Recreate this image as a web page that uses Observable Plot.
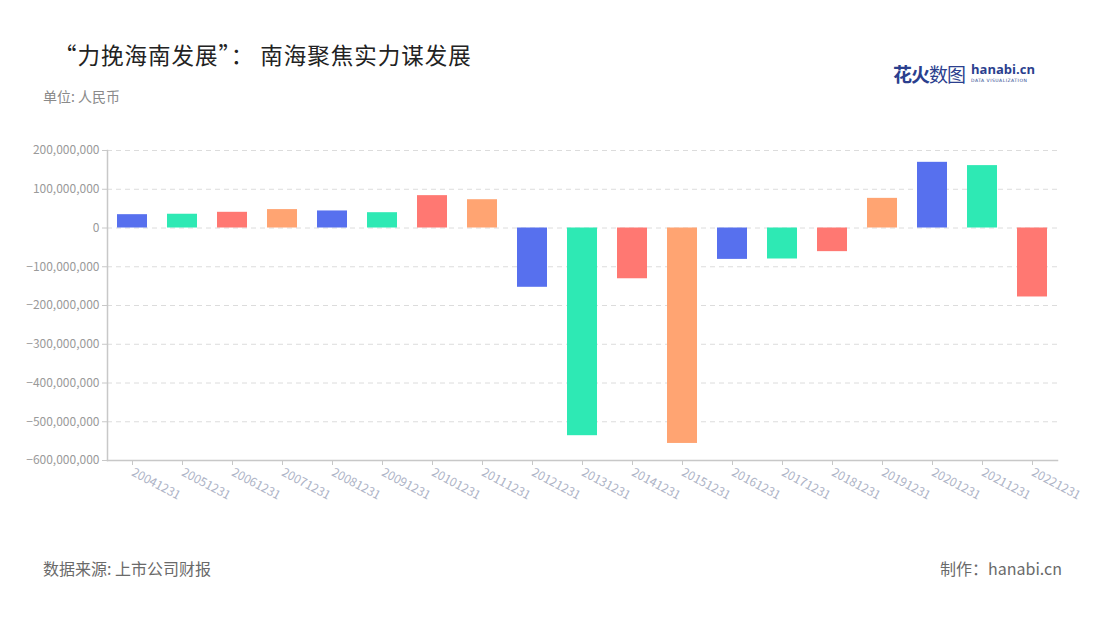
<!DOCTYPE html>
<html lang="zh-CN">
<head>
<meta charset="utf-8">
<script src="https://cdn.jsdelivr.net/npm/d3@7"></script>
<script src="https://cdn.jsdelivr.net/npm/@observablehq/plot@0.6"></script>
<style>
  html, body { margin: 0; padding: 0; background: #fff; }
  body { width: 1100px; height: 620px; position: relative; overflow: hidden;
         font-family: "Noto Sans CJK SC", "Noto Sans", sans-serif; }
  .title { position: absolute; left: 54px; top: 38px; font-size: 22.5px; color: #222; letter-spacing: 1px; font-weight: 400; }
  .unit { position: absolute; left: 43px; top: 86px; font-size: 14px; color: #8a8a8a; }
  .logo { position: absolute; left: 893px; top: 60px; display: flex; align-items: center; }
  .logo .cn { font-size: 19px; color: #2b3f8e; letter-spacing: -1px; }
  .logo .cn b { font-weight: 700; }
  .logo .en { margin-left: 6px; }
  .logo .en .a { font-size: 13px; line-height: 13px; font-weight: 700; color: #2b3f8e; font-family: "Open Sans", sans-serif; }
  .logo .en .b { font-size: 4.5px; line-height: 6px; margin-top: 2px; color: #2b3f8e; letter-spacing: 0.5px; font-family: "DejaVu Sans", sans-serif; }
  #chart { position: absolute; left: 0; top: 130px; }
  .src { position: absolute; left: 43px; top: 556px; font-size: 16px; color: #6a6a6a; }
  .maker { position: absolute; right: 38px; top: 556px; font-size: 16px; color: #6a6a6a; }
</style>
</head>
<body>
<div class="title">“力挽海南发展”： 南海聚焦实力谋发展</div>
<div class="unit">单位: 人民币</div>
<div class="logo"><span class="cn"><b>花火</b>数图</span><span class="en"><div class="a">hanabi.cn</div><div class="b">DATA VISUALIZATION</div></span></div>
<div id="chart"></div>
<div class="src">数据来源: 上市公司财报</div>
<div class="maker">制作：hanabi.cn</div>
<script>
const dates = ["20041231","20051231","20061231","20071231","20081231","20091231","20101231","20111231","20121231","20131231","20141231","20151231","20161231","20171231","20181231","20191231","20201231","20211231","20221231"];
const values = [34400000, 35500000, 40500000, 47500000, 44000000, 39500000, 83500000, 73000000, -153000000, -536000000, -131000000, -556000000, -81000000, -80000000, -61000000, 76500000, 169500000, 161000000, -178000000];
const palette = ["#5770EE", "#2EE9B4", "#FF7872", "#FFA472"];
const yTicks = [200000000, 100000000, 0, -100000000, -200000000, -300000000, -400000000, -500000000, -600000000];

const data = dates.map((d, i) => ({date: d, value: values[i], color: palette[i % palette.length]}));
const fmt = d3.format(",");

const chart = Plot.plot({
  width: 1100,
  height: 400,
  marginTop: 20,
  marginBottom: 70,
  marginLeft: 107,
  marginRight: 43,
  style: {fontFamily: "'Noto Sans CJK SC', 'Noto Sans', sans-serif", fontSize: "12px", background: "transparent"},
  x: {domain: dates, paddingInner: 0.4, paddingOuter: 0.2, label: null},
  y: {domain: [-600000000, 200000000], label: null},
  marks: [
    Plot.gridY(yTicks, {stroke: "#dcdcdc", strokeOpacity: 1, strokeDasharray: "5,4"}),
    Plot.barY(data, {x: "date", y: "value", fill: "color"}),
    Plot.frame({anchor: "left", stroke: "#c8c8c8", strokeWidth: 1.5}),
    Plot.frame({anchor: "bottom", stroke: "#c8c8c8", strokeWidth: 1.5}),
    Plot.axisY(yTicks, {tickFormat: fmt, tickSize: 5, tickPadding: 3, stroke: "#c8c8c8", color: "#9a9a9a", fontSize: 12}),
    Plot.axisX({tickSize: 5, tickRotate: 28, tickPadding: 6, stroke: "#c8c8c8", color: "#adb3c6", fontSize: 12, textAnchor: "start"})
  ]
});
document.getElementById("chart").appendChild(chart);
</script>
</body>
</html>
